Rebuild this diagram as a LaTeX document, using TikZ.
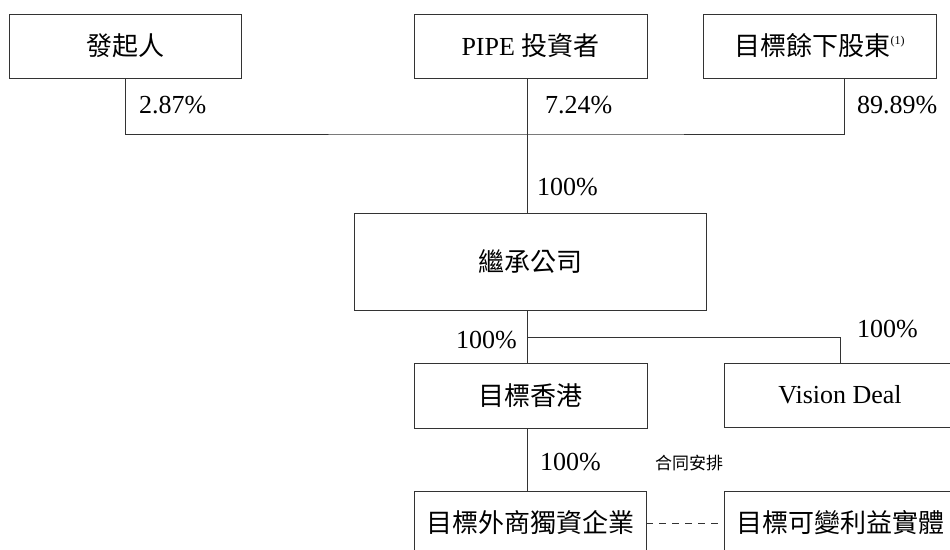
\documentclass[tikz,border=0pt]{standalone}
\usepackage{fontspec}
\setmainfont{Liberation Serif}
\newfontfamily\cjk{Noto Sans CJK TC}
\begin{document}
\begin{tikzpicture}[x=1pt,y=-1pt,
  box/.style={draw=black!80,line width=0.9pt,rectangle,inner sep=0pt,anchor=center,
    font=\fontsize{26}{30}\selectfont},
  link/.style={draw=black!80,line width=0.9pt},
  pct/.style={inner sep=0pt,font=\fontsize{26}{30}\selectfont},
  small/.style={inner sep=0pt,font=\fontsize{17}{20}\selectfont\cjk}]
\useasboundingbox (0,0) rectangle (950,549);
% boxes
\node[box,minimum width=232pt,minimum height=64pt] (A) at (125,46) {\cjk 發起人};
\node[box,minimum width=233pt,minimum height=64pt] (B) at (530.5,46) {PIPE {\cjk 投資者}};
\node[box,minimum width=233pt,minimum height=64pt] (C) at (819.5,46) {{\cjk 目標餘下股東}\raisebox{0.45em}{\fontsize{12}{14}\selectfont(1)}};
\node[box,minimum width=352pt,minimum height=97pt] (D) at (530,261.5) {\cjk 繼承公司};
\node[box,minimum width=233pt,minimum height=65pt] (E) at (530.5,395.5) {\cjk 目標香港};
\node[box,minimum width=232pt,minimum height=64pt] (F) at (840,395) {Vision Deal};
\node[box,minimum width=232pt,minimum height=64pt] (G) at (530,523) {\cjk 目標外商獨資企業};
\node[box,minimum width=232pt,minimum height=64pt] (H) at (840,523) {\cjk 目標可變利益實體};
% junction coordinates
\coordinate (j1) at (527,134);
\coordinate (j2) at (527,337);
\coordinate (j3) at (840,337);
% connectors
\draw[link] (A.south) |- (j1) -| ([xshift=24.5pt]C.south);
\draw[link] (B.south -| j1) -- (D.north -| j1);
\draw[link] (D.south -| j2) -- (E.north -| j2);
\draw[link] (j2) -| (F.north);
\draw[link] (E.south -| j2) -- (G.north -| j2);
\draw[link,dash pattern=on 7pt off 6pt] (G.east) -- (H.west);
% labels
\node[pct,anchor=west] (p1) at (139,105) {2.87\%};
\node[pct,anchor=west] (p2) at (545,105) {7.24\%};
\node[pct,anchor=west] (p3) at (857,105) {89.89\%};
\node[pct,anchor=west] (p4) at (537,187) {100\%};
\node[pct,anchor=east] (p5) at (517,340) {100\%};
\node[pct,anchor=west] (p6) at (857,329) {100\%};
\node[pct,anchor=west] (p7) at (540,462) {100\%};
\node[small,anchor=west] (p8) at (655,463) {合同安排};
\end{tikzpicture}
\end{document}
